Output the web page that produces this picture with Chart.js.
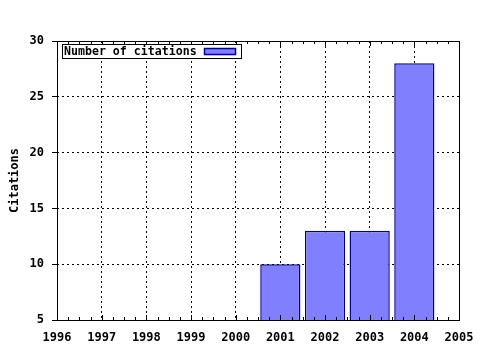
<!DOCTYPE html>
<html>
<head>
<meta charset="utf-8">
<script src="https://cdn.jsdelivr.net/npm/chart.js@4/dist/chart.umd.min.js"></script>
<style>
    html, body { margin: 0; padding: 0; background: #ffffff; }
    #wrap { width: 480px; height: 350px; }
</style>
</head>
<body>
<div id="wrap"><canvas id="chart" width="480" height="350"></canvas></div>
<script>
// Chart data
const years = ['1996', '1997', '1998', '1999', '2000', '2001', '2002', '2003', '2004', '2005'];
const citations = [null, null, null, null, null, 10, 13, 13, 28, null];
const seriesLabel = 'Number of citations';
const yAxisTitle = 'Citations';

const FONT = '"DejaVu Sans Mono", "Liberation Mono", monospace';
const BAR_FILL = '#8080ff';
const BAR_EDGE = '#0000a0';

/**
 * Frame around the plot, inward minor/major ticks and the boxed legend
 */
const framePlugin = {
    id: 'framePlugin',
    afterDraw: function(chart) {
        const ctx = chart.ctx;
        const a = chart.chartArea;
        const xs = chart.scales.x;

        ctx.save();
        ctx.strokeStyle = '#000000';
        ctx.lineWidth = 1;
        ctx.setLineDash([]);

        // plot frame
        ctx.strokeRect(Math.round(a.left) + 0.5, Math.round(a.top) + 0.5,
            Math.round(a.right - a.left), Math.round(a.bottom - a.top));

        // ticks on top and bottom edges, pointing inward
        ctx.beginPath();
        for (let i = 0; i <= (years.length - 1) * 4; i++) {
            const v = i / 4;
            const px = Math.round(xs.getPixelForValue(v)) + 0.5;
            const len = (i % 4 === 0) ? 5 : 3;
            ctx.moveTo(px, a.top);
            ctx.lineTo(px, a.top + len);
            ctx.moveTo(px, a.bottom);
            ctx.lineTo(px, a.bottom - len);
        }
        ctx.stroke();

        // legend box
        const bx = Math.round(a.left) + 5, by = Math.round(a.top) + 3, bw = 179, bh = 14;
        ctx.fillStyle = '#ffffff';
        ctx.fillRect(bx, by, bw, bh);
        ctx.strokeRect(bx + 0.5, by + 0.5, bw, bh);
        ctx.fillStyle = '#000000';
        ctx.font = 'bold 11.6px ' + FONT;
        ctx.textAlign = 'left';
        ctx.textBaseline = 'middle';
        ctx.fillText(chart.data.datasets[0].label, bx + 2, by + bh / 2 + 1);
        ctx.fillStyle = BAR_FILL;
        ctx.fillRect(bx + 142, by + 4, 31, 6);
        ctx.strokeStyle = BAR_EDGE;
        ctx.lineWidth = 1.5;
        ctx.strokeRect(bx + 142.5, by + 4.5, 31, 6);
        ctx.restore();
    }
};

const ctx = document.getElementById('chart').getContext('2d');
new Chart(ctx, {
    type: 'bar',
    data: {
        labels: years,
        datasets: [{
            label: seriesLabel,
            data: citations,
            backgroundColor: BAR_FILL,
            borderColor: BAR_EDGE,
            borderWidth: 1.5,
            barPercentage: 0.9,
            categoryPercentage: 1.0
        }]
    },
    options: {
        responsive: false,
        animation: false,
        devicePixelRatio: 1,
        layout: {
            padding: { left: 0, right: 21, top: 41, bottom: 0 }
        },
        plugins: {
            legend: { display: false },
            tooltip: { enabled: false }
        },
        scales: {
            x: {
                offset: false,
                grid: {
                    offset: false,
                    color: '#000000',
                    lineWidth: 1,
                    drawTicks: false
                },
                border: { display: false, dash: [2, 3] },
                ticks: {
                    color: '#000000',
                    font: { family: FONT, size: 12, weight: 'bold' },
                    padding: 11,
                    maxRotation: 0,
                    autoSkip: false
                },
                afterFit: function(scale) {
                    scale.height = 30;
                    // let the layout padding alone decide where the plot ends
                    scale.paddingLeft = 0;
                    scale.paddingRight = 0;
                }
            },
            y: {
                min: 5,
                max: 30,
                grid: {
                    color: '#000000',
                    lineWidth: 1,
                    drawTicks: true,
                    tickLength: 5,
                    tickBorderDash: []
                },
                border: { display: false, dash: [2, 3] },
                ticks: {
                    stepSize: 5,
                    color: '#000000',
                    font: { family: FONT, size: 12, weight: 'bold' },
                    padding: 8
                },
                title: {
                    display: true,
                    text: yAxisTitle,
                    color: '#000000',
                    font: { family: FONT, size: 12, weight: 'bold' },
                    padding: { top: 8, bottom: 0 }
                },
                afterFit: function(scale) {
                    scale.width = 57;
                    scale.paddingTop = 0;
                    scale.paddingBottom = 0;
                }
            }
        }
    },
    plugins: [framePlugin]
});
</script>
</body>
</html>
